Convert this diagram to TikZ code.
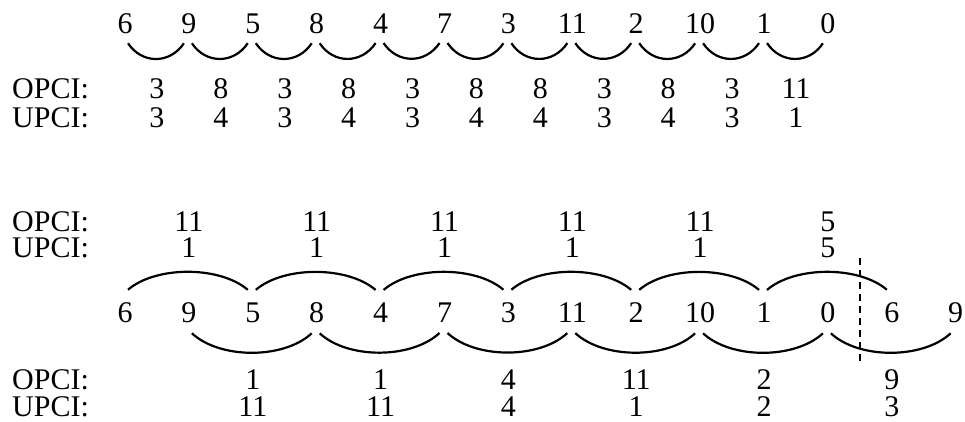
\documentclass[tikz,border=0pt]{standalone}
\usepackage{fontspec}
\setmainfont{Liberation Serif}
\begin{document}
\begin{tikzpicture}[x=1pt,y=-1pt,
  num/.style={inner sep=0pt,font=\fontsize{30}{30}\selectfont},
  lab/.style={inner sep=0pt,anchor=west,font=\fontsize{30}{30}\selectfont},
  val/.style={inner sep=0pt,font=\fontsize{30}{30}\selectfont},
  arcline/.style={line width=2.2pt},
  divider/.style={line width=1.6pt,dash pattern=on 7pt off 5pt}]
\useasboundingbox (0,0) rectangle (965,422);
\def\dx{63.9}
% ---------- top section ----------
\foreach \v [count=\i from 0] in {6,9,5,8,4,7,3,11,2,10,1,0}
  \node[num] (t\i) at ({125+\dx*\i},24) {\v};
\foreach \i [count=\j from 1] in {0,...,10}
  \draw[arcline] ([shift={(3,9)}]t\i.south) .. controls +(14,21) and +(-14,21) .. ([shift={(-5,9)}]t\j.south);
\node[lab] (lo1) at (12,89) {OPCI:};
\node[lab] (lu1) at (12,118) {UPCI:};
\foreach \o/\u [count=\i from 0] in {3/3,8/4,3/3,8/4,3/3,8/4,8/4,3/3,8/4,3/3,11/1}{
  \node[val] (o\i) at ({125+\dx*\i+\dx/2},89) {\o};
  \node[val] (u\i) at ({125+\dx*\i+\dx/2},118) {\u};
}
% ---------- bottom section ----------
\foreach \v [count=\i from 0] in {6,9,5,8,4,7,3,11,2,10,1,0,6,9}
  \node[num] (b\i) at ({125+\dx*\i},313) {\v};
\foreach \i [evaluate=\i as \j using int(\i+2)] in {0,2,...,10}
  \draw[arcline] ([shift={(3,-13)}]b\i.north) .. controls +(28,-24) and +(-28,-24) .. ([shift={(-5,-13)}]b\j.north);
\foreach \i [evaluate=\i as \j using int(\i+2)] in {1,3,...,11}
  \draw[arcline] ([shift={(3,10)}]b\i.south) .. controls +(28,26) and +(-28,26) .. ([shift={(-5,10)}]b\j.south);
\node[lab] (lo2) at (12,222) {OPCI:};
\node[lab] (lu2) at (12,248) {UPCI:};
\foreach \o/\u [count=\k from 0] in {11/1,11/1,11/1,11/1,11/1,5/5}{
  \node[val] (p\k) at ({125+\dx*(2*\k+1)},222) {\o};
  \node[val] (q\k) at ({125+\dx*(2*\k+1)},248) {\u};
}
\node[lab] (lo3) at (12,380) {OPCI:};
\node[lab] (lu3) at (12,407) {UPCI:};
\foreach \o/\u [count=\k from 0] in {1/11,1/11,4/4,11/1,2/2,9/3}{
  \node[val] (r\k) at ({125+\dx*(2*\k+2)},380) {\o};
  \node[val] (s\k) at ({125+\dx*(2*\k+2)},407) {\u};
}
\coordinate (d1) at (860,258);
\coordinate (d2) at (860,363);
\draw[divider] (d1) -- (d2);
\end{tikzpicture}
\end{document}
